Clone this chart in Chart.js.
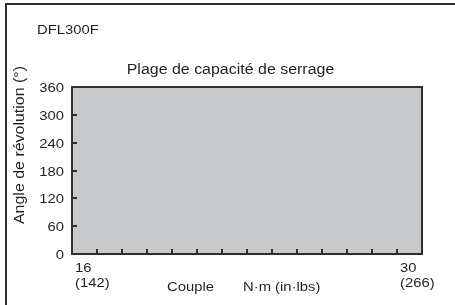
<!DOCTYPE html>
<html>
<head>
<meta charset="utf-8">
<script src="https://cdn.jsdelivr.net/npm/chart.js@4"></script>
<style>
  html, body { margin: 0; padding: 0; background: #ffffff; }
  canvas { display: block; }
</style>
</head>
<body>
<canvas id="c" width="455" height="305"></canvas>
<script>
// ---- data ----
const modelName = "DFL300F";
const chartTitle = "Plage de capacité de serrage";
const xTitleParts = ["Couple", "N·m (in·lbs)"];
const yTitle = "Angle de révolution (°)";
const torqueRangeNm = [16, 30];
const torqueRangeInLbs = [142, 266];
const angleCapacity = [360, 360];
const yTickValues = [0, 60, 120, 180, 240, 300, 360];
const xMinorTicks = [17, 18, 19, 20, 21, 22, 23, 24, 25, 26, 27, 28, 29];

// ---- styles ----
const TEXT = '#231f20';
const LINE = '#2f2f2f';
const FILL = '#c8c9cb';
const FONT = '"Liberation Sans", Arial, Helvetica, sans-serif';
const SX = 1.14;

function txt(ctx, s, x, y, size, align, baseline, rot) {
  ctx.save();
  ctx.translate(x, y);
  if (rot) ctx.rotate(rot);
  ctx.scale(SX, 1);
  ctx.font = size + 'px ' + FONT;
  ctx.fillStyle = TEXT;
  ctx.textAlign = align;
  ctx.textBaseline = baseline;
  ctx.fillText(s, 0, 0);
  ctx.restore();
}

const decor = {
  id: 'decor',
  afterDraw(chart) {
    const ctx = chart.ctx;
    const a = chart.chartArea;
    const xs = chart.scales.x, ys = chart.scales.y;

    // outer frame (top + left)
    ctx.save();
    ctx.strokeStyle = LINE;
    ctx.lineWidth = 2;
    ctx.beginPath();
    ctx.moveTo(455, 4);
    ctx.lineTo(6, 4);
    ctx.lineTo(6, 305);
    ctx.stroke();

    // plot frame
    ctx.lineWidth = 2;
    ctx.strokeRect(a.left, a.top, a.right - a.left, a.bottom - a.top);

    // inward tick marks
    ctx.lineWidth = 2;
    ctx.beginPath();
    xMinorTicks.forEach(v => {
      const px = Math.round(xs.getPixelForValue(v));
      ctx.moveTo(px, a.bottom);
      ctx.lineTo(px, a.bottom - 5);
    });
    yTickValues.slice(1, -1).forEach(v => {
      const py = Math.round(ys.getPixelForValue(v));
      ctx.moveTo(a.left, py);
      ctx.lineTo(a.left + 5, py);
    });
    ctx.stroke();
    ctx.restore();

    // y tick labels
    yTickValues.forEach(v => {
      txt(ctx, String(v), a.left - 8, ys.getPixelForValue(v) + 1.5, 13, 'right', 'middle');
    });

    // x edge labels
    const lx = xs.getPixelForValue(torqueRangeNm[0]) + 3;
    const rx = xs.getPixelForValue(torqueRangeNm[1]) - 22;
    txt(ctx, String(torqueRangeNm[0]), lx, a.bottom + 18, 13, 'left', 'alphabetic');
    txt(ctx, '(' + torqueRangeInLbs[0] + ')', lx, a.bottom + 32.5, 13, 'left', 'alphabetic');
    txt(ctx, String(torqueRangeNm[1]), rx, a.bottom + 18, 13, 'left', 'alphabetic');
    txt(ctx, '(' + torqueRangeInLbs[1] + ')', rx, a.bottom + 32.5, 13, 'left', 'alphabetic');

    // x title
    txt(ctx, xTitleParts[0], 167, 291, 13, 'left', 'alphabetic');
    txt(ctx, xTitleParts[1], 243, 291, 13, 'left', 'alphabetic');

    // y title
    txt(ctx, yTitle, 23.5, 145, 14, 'center', 'alphabetic', -Math.PI / 2);

    // model + chart title
    txt(ctx, modelName, 37, 33.5, 13, 'left', 'alphabetic');
    txt(ctx, chartTitle, 230.5, 73.5, 14, 'center', 'alphabetic');
  }
};

new Chart(document.getElementById('c'), {
  type: 'line',
  data: {
    datasets: [{
      data: torqueRangeNm.map((x, i) => ({ x: x, y: angleCapacity[i] })),
      fill: 'origin',
      backgroundColor: FILL,
      borderWidth: 0,
      pointRadius: 0
    }]
  },
  options: {
    responsive: false,
    animation: false,
    layout: { padding: { left: 0, top: 87, right: 33, bottom: 0 } },
    plugins: { legend: { display: false }, tooltip: { enabled: false }, title: { display: false } },
    scales: {
      x: {
        type: 'linear', min: torqueRangeNm[0], max: torqueRangeNm[1],
        grid: { display: false }, border: { display: false },
        ticks: { display: false },
        afterFit(s) { s.height = 51; }
      },
      y: {
        min: yTickValues[0], max: yTickValues[yTickValues.length - 1],
        grid: { display: false }, border: { display: false },
        ticks: { display: false },
        afterFit(s) { s.width = 72; }
      }
    }
  },
  plugins: [decor]
});
</script>
</body>
</html>
